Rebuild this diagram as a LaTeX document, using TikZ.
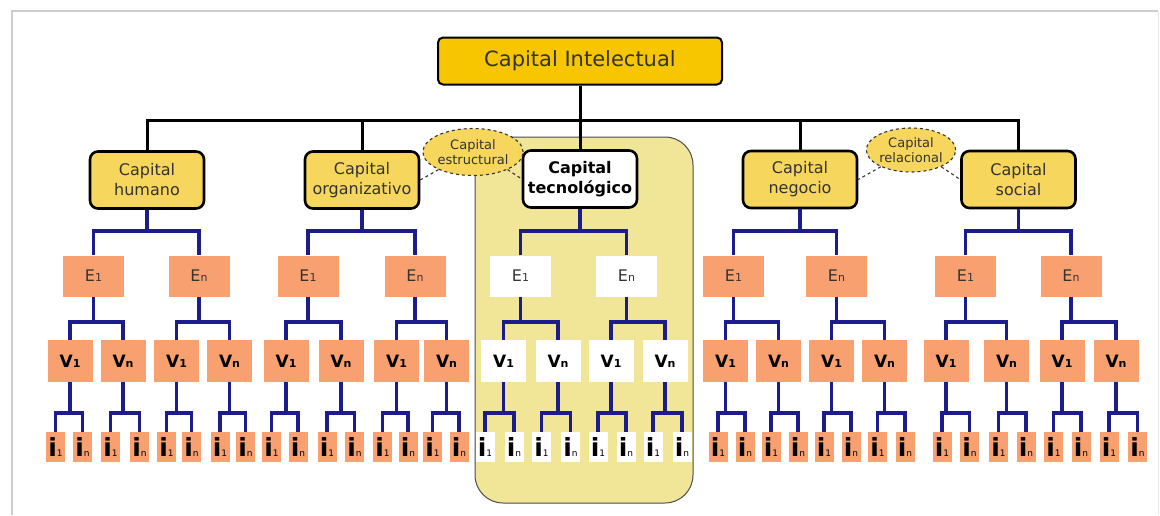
\documentclass[tikz,border=0pt]{standalone}
\usepackage{fontspec}
\setmainfont{DejaVu Sans}
\usetikzlibrary{shapes.geometric}

\definecolor{titlefill}{RGB}{247,198,0}
\definecolor{capfill}{RGB}{246,214,92}
\definecolor{salmon}{RGB}{249,160,112}
\definecolor{navy}{RGB}{28,28,140}
\definecolor{techbg}{RGB}{241,229,152}
\definecolor{txt}{RGB}{51,51,51}
\definecolor{framegray}{RGB}{205,205,205}

% small index set on the baseline, as in E1, V1, i1
\newcommand\lowidx[1]{{\fontsize{11}{11}\selectfont #1}}
\newcommand\vlabel[1]{\textbf{V}{\fontsize{11}{11}\selectfont\bfseries #1}}
\newcommand\ilabel[1]{{\fontsize{25}{25}\selectfont\bfseries i}{\fontsize{9}{9}\selectfont #1}}

\begin{document}
\begin{tikzpicture}[x=1pt,y=-1pt,
  titlebox/.style={draw=black, line width=2pt, rounded corners=5pt, fill=titlefill,
    minimum width=284, minimum height=47, inner sep=0pt,
    font=\fontsize{21}{25}\selectfont, text=txt},
  capbox/.style={draw=black, line width=2.6pt, rounded corners=8pt, fill=capfill,
    minimum width=114, minimum height=57, inner sep=0pt, align=center,
    font=\fontsize{16}{20}\selectfont, text=txt},
  groupel/.style={ellipse, draw=black!80, dashed, line width=1.1pt, fill=capfill,
    minimum width=93, minimum height=47, inner sep=0pt, align=center,
    font=\fontsize{13}{14.5}\selectfont, text=txt},
  ebox/.style={fill=salmon, minimum width=61, minimum height=41, inner sep=0pt,
    font=\fontsize{16}{18}\selectfont, text=txt},
  vbox/.style={fill=salmon, minimum width=45, minimum height=42, inner sep=0pt,
    font=\fontsize{17}{18}\selectfont, text=black},
  ibox/.style={fill=salmon, minimum width=19, minimum height=30, inner sep=0pt,
    text=black},
  topline/.style={draw=black, line width=3pt},
  navyline/.style={draw=navy, line width=3.1pt},
  dashline/.style={draw=black!80, dashed, line width=1.1pt}
]
\useasboundingbox (0,0) rectangle (1160,515);

% card outline
\draw[framegray, line width=1.6pt] (12,515) -- (12,11) -- (1158,11);
\draw[framegray!50, line width=1pt] (1158,11) -- (1158,515);

% highlighted technology branch
\fill[techbg, draw=black!70, line width=1pt, rounded corners=28pt]
  (475,137) rectangle (693,503);

% bus levels
\coordinate (busA) at (0,120);
\coordinate (busE) at (0,231);
\coordinate (busV) at (0,322);
\coordinate (busI) at (0,413);

% top and second level
\node[titlebox] (ci) at (580,61) {Capital Intelectual};
\node[capbox] (h) at (147,180) {Capital\\humano};
\node[capbox] (o) at (362,180) {Capital\\organizativo};
\node[capbox, fill=white, text=black, font=\fontsize{16}{20}\selectfont\bfseries] (t) at (580,179) {Capital\\tecnológico};
\node[capbox] (n) at (800,179.5) {Capital\\negocio};
\node[capbox] (s) at (1018.5,179.5) {Capital\\social};

% grouping ellipses
\node[groupel] (estr) at (473,152) {Capital\\estructural};
\node[groupel, minimum width=87, minimum height=44] (rel) at (911,150) {Capital\\relacional};
\draw[dashline] (estr.207) -- (o.east);
\draw[dashline] (estr.-27) -- (t.west);
\draw[dashline] (rel.209) -- (n.east);
\draw[dashline] (rel.-29) -- (s.west);

% E level
\foreach \g/\a/\b in {h/93.5/199, o/308/415, n/733.5/836.5, s/965.5/1071} {
  \node[ebox] (\g-E1) at (\a,276) {E\lowidx{1}};
  \node[ebox] (\g-En) at (\b,276) {E\lowidx{n}};
}
\node[ebox, fill=white] (t-E1) at (520.5,276) {E\lowidx{1}};
\node[ebox, fill=white] (t-En) at (626.5,276) {E\lowidx{n}};

% V level and i level
\foreach \v/\vx/\ia/\ib/\k/\col in {
  h-V1/70/55.5/82.5/1/salmon, h-V2/123/110.5/139.5/n/salmon,
  h-V3/176.5/166.5/191.5/1/salmon, h-V4/229.5/220/245.5/n/salmon,
  o-V1/286/271.5/298/1/salmon, o-V2/341/327/354.5/n/salmon,
  o-V3/396.5/382.5/408/1/salmon, o-V4/446.5/432.5/459/n/salmon,
  t-V1/503.5/485/514/1/white, t-V2/558/541.5/570.5/n/white,
  t-V3/611/598/626/1/white, t-V4/665/653/682/n/white,
  n-V1/725.5/718/745/1/salmon, n-V2/778.5/771/798/n/salmon,
  n-V3/831.5/824/851/1/salmon, n-V4/884.5/877.5/905/n/salmon,
  s-V1/946/942/969.5/1/salmon, s-V2/1006.5/998.5/1026/n/salmon,
  s-V3/1062/1053.5/1081/1/salmon, s-V4/1116/1109/1137.5/n/salmon} {
  \node[vbox, fill=\col] (\v) at (\vx,361) {\vlabel{\k}};
  \node[ibox, fill=\col] (\v-i1) at (\ia,447) {\ilabel{1}};
  \node[ibox, fill=\col] (\v-in) at (\ib,447) {\ilabel{n}};
  \draw[navyline] (\v-i1.north) |- (\v-in.north |- busI) -- (\v-in.north);
  \draw[navyline] (\v.south) -- (\v.south |- busI);
}

% first level connectors
\draw[topline] (h.north) |- (s.north |- busA) -- (s.north);
\draw[topline] (ci.south) -- (ci.south |- busA);
\foreach \g in {o,t,n} {
  \draw[topline] (\g.north) -- (\g.north |- busA);
}

% second level to E, E to V
\foreach \g in {h,o,t,n,s} {
  \draw[navyline] (\g-E1.north) |- (\g-En.north |- busE) -- (\g-En.north);
  \draw[navyline] (\g.south) -- (\g.south |- busE);
  \draw[navyline] (\g-V1.north) |- (\g-V2.north |- busV) -- (\g-V2.north);
  \draw[navyline] (\g-E1.south) -- (\g-E1.south |- busV);
  \draw[navyline] (\g-V3.north) |- (\g-V4.north |- busV) -- (\g-V4.north);
  \draw[navyline] (\g-En.south) -- (\g-En.south |- busV);
}
\end{tikzpicture}
\end{document}
